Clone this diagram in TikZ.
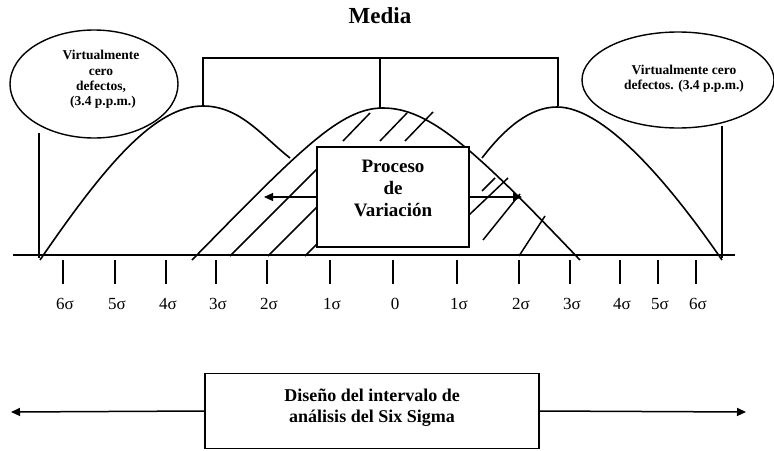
\documentclass[tikz,border=0pt]{standalone}
\usepackage{fontspec}
\setmainfont{Liberation Serif}
\usetikzlibrary{arrows.meta,shapes.geometric}
\begin{document}
\begin{tikzpicture}[x=1pt,y=-1pt,
  curve/.style={line width=1.6pt},
  hatch/.style={line width=1.5pt},
  thin line/.style={line width=1.1pt},
  boxstyle/.style={draw,line width=1.3pt,fill=white,inner sep=0pt},
  tick/.style={line width=1.4pt},
  lbl/.style={font=\fontsize{17}{17}\selectfont,anchor=base},
  elltxt/.style={font=\bfseries\fontsize{13.5}{15.5}\selectfont,anchor=base},
  proctxt/.style={font=\bfseries\fontsize{19}{19}\selectfont,anchor=base},
  bottxt/.style={font=\bfseries\fontsize{18}{18}\selectfont,anchor=base},
  tip/.style={-{Triangle[length=9pt,width=8pt]}}
]
\useasboundingbox (0,0) rectangle (774,450);

% title
\node[font=\bfseries\fontsize{23}{23}\selectfont,anchor=base] (media) at (380,23) {Media};

% peaks
\coordinate (pL) at (203,106);
\coordinate (pM) at (383,108);
\coordinate (pR) at (557,107);
\coordinate (bL) at (203,58);
\coordinate (bM) at (380,58);
\coordinate (bR) at (558,58);

% bracket
\draw[line width=1.3pt] (pL) -- (bL) -- (bR) -- (558,106);
\draw[line width=1.3pt] (bM) -- (380,109);

% axis
\coordinate (axL) at (13,255);
\coordinate (axR) at (735,255);
\draw[curve] (axL) -- (axR);

% hatching (under box)
\draw[hatch] (230,256) -- (317,169);
\draw[hatch] (268,256) -- (317,207);
\draw[hatch] (305,256) -- (317,244);
\draw[hatch] (343,141) -- (370,113);
\draw[hatch] (380,141) -- (407,113);
\draw[hatch] (405,141) -- (433,112);
\draw[hatch] (482,191) -- (495,178);
\draw[hatch] (469,215) -- (508,178);
\draw[hatch] (483,240) -- (520,194);
\draw[hatch] (519,256) -- (545,216);

% bells
\draw[curve] (40,260) .. controls (105,165) and (155,106) .. (pL)
             .. controls (240,106) and (262,136) .. (290,158);
\draw[curve] (192,260) .. controls (300,150) and (340,108) .. (pM)
             .. controls (430,108) and (475,150) .. (580,260);
\draw[curve] (482,158) .. controls (505,128) and (530,107) .. (pR)
             .. controls (600,107) and (660,170) .. (722,260);

% ellipses
\node[draw,ellipse,line width=1.4pt,minimum width=168pt,minimum height=108pt,inner sep=0pt] (ellL) at (94,84) {};
\node[draw,ellipse,line width=1.4pt,minimum width=192pt,minimum height=96pt,inner sep=0pt] (ellR) at (678,80) {};
\node[elltxt] (eL1) at (101,59) {Virtualmente};
\node[elltxt] (eL2) at (101,75) {cero};
\node[elltxt] (eL3) at (101,90) {defectos,};
\node[elltxt] (eL4) at (103,105) {(3.4 p.p.m.)};
\node[elltxt] (eR1) at (684,74) {Virtualmente cero};
\node[elltxt] (eR2) at (684,89) {defectos. (3.4 p.p.m.)};

% verticals under ellipses
\draw[curve] (39,133) -- (39,258);
\draw[curve] (722,126) -- (722,258);

% process box
\node[boxstyle,minimum width=152pt,minimum height=100pt] (proc) at (393,197) {};
\node[proctxt] (pt1) at (393,172) {Proceso};
\node[proctxt] (pt2) at (393,194) {de};
\node[proctxt] (pt3) at (393,216) {Variación};
\coordinate (arrL) at (264,197);
\coordinate (arrR) at (522,197);
\draw[thin line,tip] (proc.west) -- (arrL);
\draw[thin line,tip] (proc.east) -- (arrR);

% ticks and labels
\foreach \x/\t [count=\i] in {63/6σ,115/5σ,166/4σ,216/3σ,267/2σ,330/1σ,393/0,457/1σ,519/2σ,570/3σ,620/4σ,658/5σ,696/6σ}{
  \draw[tick] (\x,260) -- (\x,284);
  \node[lbl] (l\i) at (\x+2,309) {\t};
}

% bottom box
\node[boxstyle,minimum width=334pt,minimum height=75pt] (design) at (372,411) {};
\node[bottxt] (d1) at (372,401) {Diseño del intervalo de};
\node[bottxt] (d2) at (372,422) {análisis del Six Sigma};
\coordinate (dL) at (11,412);
\coordinate (dR) at (746,412);
\draw[line width=1.5pt,tip] (design.west) -- (dL);
\draw[line width=1.5pt,tip] (design.east) -- (dR);
\end{tikzpicture}
\end{document}
